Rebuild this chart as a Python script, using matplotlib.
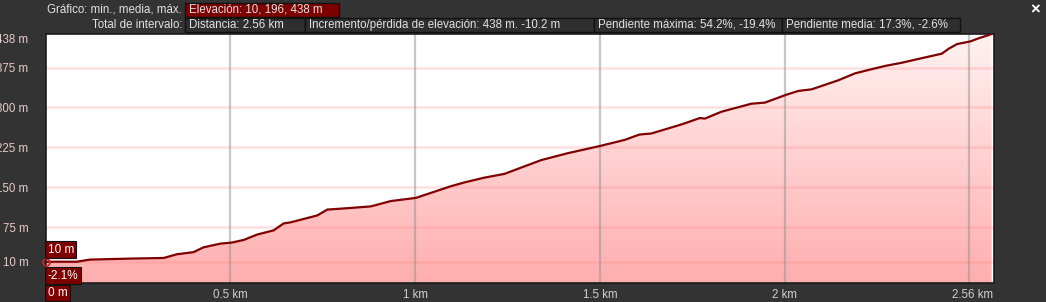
import numpy as np
import matplotlib.pyplot as plt
from matplotlib.patches import Rectangle

# perfil de elevación (km, m)
dist_km = [0.0, 0.084, 0.120, 0.238, 0.319, 0.355, 0.400, 0.427, 0.473, 0.504,
           0.536, 0.572, 0.617, 0.644, 0.663, 0.735, 0.762, 0.825, 0.880, 0.934,
           1.002, 1.097, 1.133, 1.187, 1.241, 1.341, 1.413, 1.503, 1.567, 1.607,
           1.639, 1.711, 1.729, 1.770, 1.784, 1.829, 1.910, 1.946, 2.005, 2.037,
           2.073, 2.145, 2.190, 2.236, 2.272, 2.317, 2.380, 2.425, 2.443, 2.466,
           2.502, 2.525, 2.543, 2.560]
elev_m = [10, 10, 14, 16, 17, 24, 28, 37, 44, 46,
          51, 61, 69, 82, 84, 97, 108, 111, 114, 124,
          130, 152, 159, 168, 175, 201, 214, 228, 239, 249,
          251, 266, 270, 280, 279, 292, 307, 309, 324, 331,
          334, 351, 364, 372, 378, 384, 394, 401, 410, 419,
          424, 430, 434, 438]

y_ticks = [10, 75, 150, 225, 300, 375, 438]
x_ticks = [0.5, 1, 1.5, 2, 2.565]
x_tick_labels = ['0.5 km', '1 km', '1.5 km', '2 km', '2.56 km']
v_grid = [0.5, 1, 1.5, 2, 2.5]

header_row1 = 'Elevación: 10, 196, 438 m'
header_row2 = ['Distancia: 2.56 km',
               'Incremento/pérdida de elevación: 438 m. -10.2 m',
               'Pendiente máxima: 54.2%, -19.4%',
               'Pendiente media: 17.3%, -2.6%']

W, H = 1046, 302
BG = '#333333'
DARKRED = '#7c0000'
TXT = '#e2e2e2'
FS = 8.3
plt.rcParams['font.family'] = ['Liberation Sans', 'DejaVu Sans']

fig = plt.figure(figsize=(W / 100, H / 100), dpi=100, facecolor=BG)
ax = fig.add_axes([45.7 / W, 1 - 283 / H, (993.5 - 45.7) / W, (283 - 34) / H])
ymin, ymax = -30, 438
xmax = 2.565
ax.set_xlim(0, xmax)
ax.set_ylim(ymin, ymax)
ax.set_facecolor('white')

# relleno con degradado
grad = np.linspace(0, 1, 256).reshape(-1, 1)
top = np.array([255, 242, 242]) / 255
bot = np.array([255, 174, 174]) / 255
img = top + (bot - top) * grad[..., None]
im = ax.imshow(img, extent=[0, xmax, ymin, ymax], origin='upper', aspect='auto', zorder=1)
poly = ax.fill_between(dist_km, elev_m, ymin, facecolor='none', edgecolor='none')
im.set_clip_path(poly.get_paths()[0], ax.transData)

for y in y_ticks[:-1]:
    ax.axhline(y, color='#ff8080', alpha=0.25, lw=1.8, zorder=2)
for x in v_grid:
    ax.axvline(x, color='#909090', alpha=0.5, lw=1.6, zorder=2)

ax.plot(dist_km, elev_m, color='#800000', lw=1.6, zorder=4)
ax.plot(dist_km[0], elev_m[0], 'o', ms=5, mfc='none', mec='#d02020', mew=1.2,
        zorder=5, clip_on=False)

# ejes
for s in ax.spines.values():
    s.set_color('#1c1c1c')
    s.set_linewidth(1.2)
ax.set_yticks(y_ticks)
ax.set_yticklabels([f'{v} m' for v in y_ticks])
ax.set_xticks(x_ticks)
ax.set_xticklabels(x_tick_labels)
ax.tick_params(axis='y', length=0, pad=12.5, labelsize=FS, labelcolor='#e8caca')
ax.tick_params(axis='x', length=0, pad=4, labelsize=FS, labelcolor='#d0d0d0')
ax.get_yticklabels()[-1].set_va('top')
ax.get_xticklabels()[-1].set_ha('right')

lab_box = dict(boxstyle='square,pad=0.2', fc=DARKRED, ec='#111111', lw=0.8)
ax.annotate('10 m', xy=(0, elev_m[0]), xytext=(2, 6), textcoords='offset pixels',
            ha='left', va='bottom', color='white', fontsize=8.5, bbox=lab_box, zorder=6)
ax.annotate('-2.1%', xy=(0, elev_m[0]), xytext=(2, -8), textcoords='offset pixels',
            ha='left', va='top', color='white', fontsize=8.5, bbox=lab_box, zorder=6)
ax.annotate('0 m', xy=(0, ymin), xytext=(2, -4), textcoords='offset pixels',
            ha='left', va='top', color='white', fontsize=8.5, bbox=lab_box,
            annotation_clip=False, zorder=6)


# cabecera
def box(x0, x1, y0, y1, face, text):
    fig.add_artist(Rectangle((x0 / W, 1 - y1 / H), (x1 - x0) / W, (y1 - y0) / H,
                             transform=fig.transFigure, fc=face, ec='#111111', lw=1))
    fig.text((x0 + 4) / W, 1 - (y0 + y1) / 2 / H, text, color=TXT, fontsize=FS,
             ha='left', va='center')


fig.text(182 / W, 1 - 10 / H, 'Gráfico: min., media, máx.', color=TXT,
         fontsize=FS, ha='right', va='center')
fig.text(182 / W, 1 - 24.5 / H, 'Total de intervalo:', color=TXT,
         fontsize=FS, ha='right', va='center')
box(185, 339, 2.5, 17, DARKRED, header_row1)
edges = [185, 305, 594, 782, 960]
for i, t in enumerate(header_row2):
    box(edges[i], edges[i + 1], 17.5, 32, '#2e2e2e', t)
fig.text(1035 / W, 1 - 10 / H, '×', color='white', fontsize=12,
         fontweight='bold', ha='center', va='center')

fig.savefig('out.png', dpi=100, facecolor=BG)
